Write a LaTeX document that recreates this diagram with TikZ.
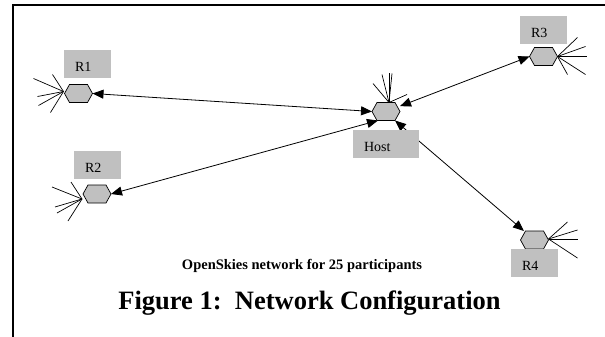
\documentclass[tikz,border=0pt]{standalone}
\usepackage{fontspec}
\setmainfont{Liberation Serif}
\usetikzlibrary{arrows.meta,calc}
\definecolor{hubgray}{HTML}{C0C0C0}
% hexagonal hub drawn on the anchors of an invisible node
\newcommand\hexshape[1]{%
  \filldraw[hexfill] (#1.west) -- ($(#1.north west)+(5,0)$) -- ($(#1.north east)+(-5,0)$)
    -- (#1.east) -- ($(#1.south east)+(-5,0)$) -- ($(#1.south west)+(5,0)$) -- cycle;}
\begin{document}
\begin{tikzpicture}[x=1pt,y=-1pt,
  hub/.style={minimum width=28pt,minimum height=18pt,inner sep=0pt,outer sep=0pt},
  hexfill/.style={fill=hubgray,draw=black,line width=0.7pt},
  tag/.style={fill=hubgray,inner xsep=11pt,inner ysep=0pt,text width=#1,minimum height=28pt,
    align=left,text height=14pt,text depth=0pt,font=\fontsize{14}{16}\selectfont},
  link/.style={line width=0.8pt,{Triangle[length=11pt,width=9pt]}-{Triangle[length=11pt,width=9pt]}},
  spoke/.style={line width=0.7pt}]
\useasboundingbox (0,0) rectangle (605,337);

% frame
\draw[line width=2pt] (13,338) -- (13,5) -- (606,5);

% hubs
\node[hub] (h0) at (386,111.5) {};
\node[hub] (h1) at (78.5,93.5) {};
\node[hub] (h2) at (97,194) {};
\node[hub] (h3) at (543.5,56.5) {};
\node[hub] (h4) at (534.5,240) {};

% links between host and remote sites
\draw[link] (h1.east) -- (h0.west);
\draw[link] (h2.east) -- ($(h0.south west)+(6,0)$);
\draw[link] (h3.west) -- (h0);
\draw[link] ($(h0.south east)+(-5,0)$) -- (h4);

% local participants fanning out of each hub
\coordinate (f1) at ($(h1.west)+(-1,-2)$);
\foreach \dx/\dy in {-30/-13,-11/-17,-26/5,-25/14,-13/21}
  \draw[spoke] (f1) -- ++(\dx,\dy);
\coordinate (f2) at ($(h2.west)+(-1,5)$);
\foreach \dx/\dy in {-30/-12,-11/-17,-27/8,-25/14,-14/22}
  \draw[spoke] (f2) -- ++(\dx,\dy);
\coordinate (f0) at ($(h0.north)+(3,0)$);
\foreach \dx/\dy in {-16/-19,-7/-28,0/-29,3/-29,18/-8}
  \draw[spoke] (f0) -- ++(\dx,\dy);
\coordinate (f3) at (h3.east);
\foreach \dx/\dy in {20/-19,28/-10,29/0,28/18,10/18}
  \draw[spoke] (f3) -- ++(\dx,\dy);
\coordinate (f4) at ($(h4.east)+(0,-1)$);
\foreach \dx/\dy in {19/-17,29/-9,29/0,29/19}
  \draw[spoke] (f4) -- ++(\dx,\dy);

\hexshape{h0}
\hexshape{h1}
\hexshape{h2}
\hexshape{h3}
\hexshape{h4}

% site labels
\node[tag=25pt] (l1) at (87.5,64) {R1};
\node[tag=25pt] (l2) at (97.5,165) {R2};
\node[tag=25pt] (l3) at (543.5,30.5) {R3};
\node[tag=25pt] (l4) at (534.5,263) {R4};
\node[tag=44pt] (l0) at (386,144) {Host};

% captions
\node[anchor=base,font=\bfseries\fontsize{14.5}{17}\selectfont] (sub) at (302,269)
  {OpenSkies network for 25 participants};
\node[anchor=base,font=\bfseries\fontsize{26.5}{30}\selectfont] (cap) at (309.5,309)
  {Figure 1:\ \ Network Configuration};
\end{tikzpicture}
\end{document}
